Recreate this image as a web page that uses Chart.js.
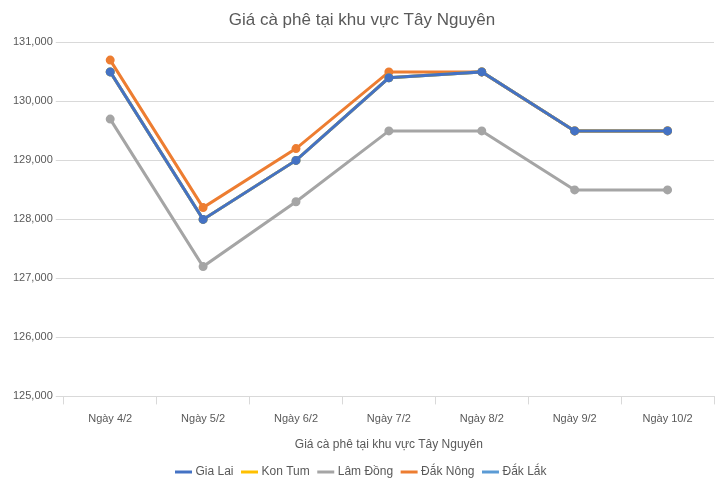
<!DOCTYPE html>
<html><head><meta charset="utf-8">
<script src="https://cdn.jsdelivr.net/npm/chart.js@4"></script>
<style>body{margin:0;background:#fff}#w{width:728px;height:492px}</style>
</head><body><div id="w"><canvas id="c"></canvas></div>
<script>
const categories=["Ngày 4/2","Ngày 5/2","Ngày 6/2","Ngày 7/2","Ngày 8/2","Ngày 9/2","Ngày 10/2"];
const dakLak=[130500,128000,129000,130400,130500,129500,129500];
const dakNong=[130700,128200,129200,130500,130500,129500,129500];
const lamDong=[129700,127200,128300,129500,129500,128500,128500];
const konTum=[130500,128000,129000,130400,130500,129500,129500];
const giaLai=[130500,128000,129000,130400,130500,129500,129500];
const mk=(l,d,c,o)=>({label:l,data:d,borderColor:c,backgroundColor:c,borderWidth:3,pointRadius:3,pointHoverRadius:3,tension:0,order:o});
new Chart(document.getElementById('c'),{type:'line',
data:{labels:categories,datasets:[mk('Đắk Lắk',dakLak,'#5b9bd5',4),mk('Đắk Nông',dakNong,'#ed7d31',3),mk('Lâm Đồng',lamDong,'#a5a5a5',2),mk('Kon Tum',konTum,'#ffc000',1),mk('Gia Lai',giaLai,'#4472c4',0)]},
options:{responsive:true,maintainAspectRatio:false,animation:false,
layout:{padding:{left:10,right:14,top:4,bottom:4}},
plugins:{title:{display:true,text:'Giá cà phê tại khu vực Tây Nguyên',color:'#595959',font:{family:'Liberation Sans',size:17,weight:'normal'},padding:{top:6,bottom:12}},
legend:{position:'bottom',labels:{usePointStyle:true,pointStyle:'line',boxWidth:26,color:'#595959',font:{size:12}}},tooltip:{enabled:false}},
scales:{x:{offset:true,grid:{display:true,offset:true,drawOnChartArea:false,color:'#d9d9d9'},border:{color:'#d9d9d9'},ticks:{color:'#595959',font:{size:11},padding:8},title:{display:true,text:'Giá cà phê tại khu vực Tây Nguyên',color:'#595959',font:{size:12}}},
y:{min:125000,max:131000,ticks:{stepSize:1000,color:'#595959',font:{size:11},callback:v=>v.toLocaleString('en-US')},grid:{color:'#d9d9d9'},border:{display:false}}}}});
</script></body></html>
